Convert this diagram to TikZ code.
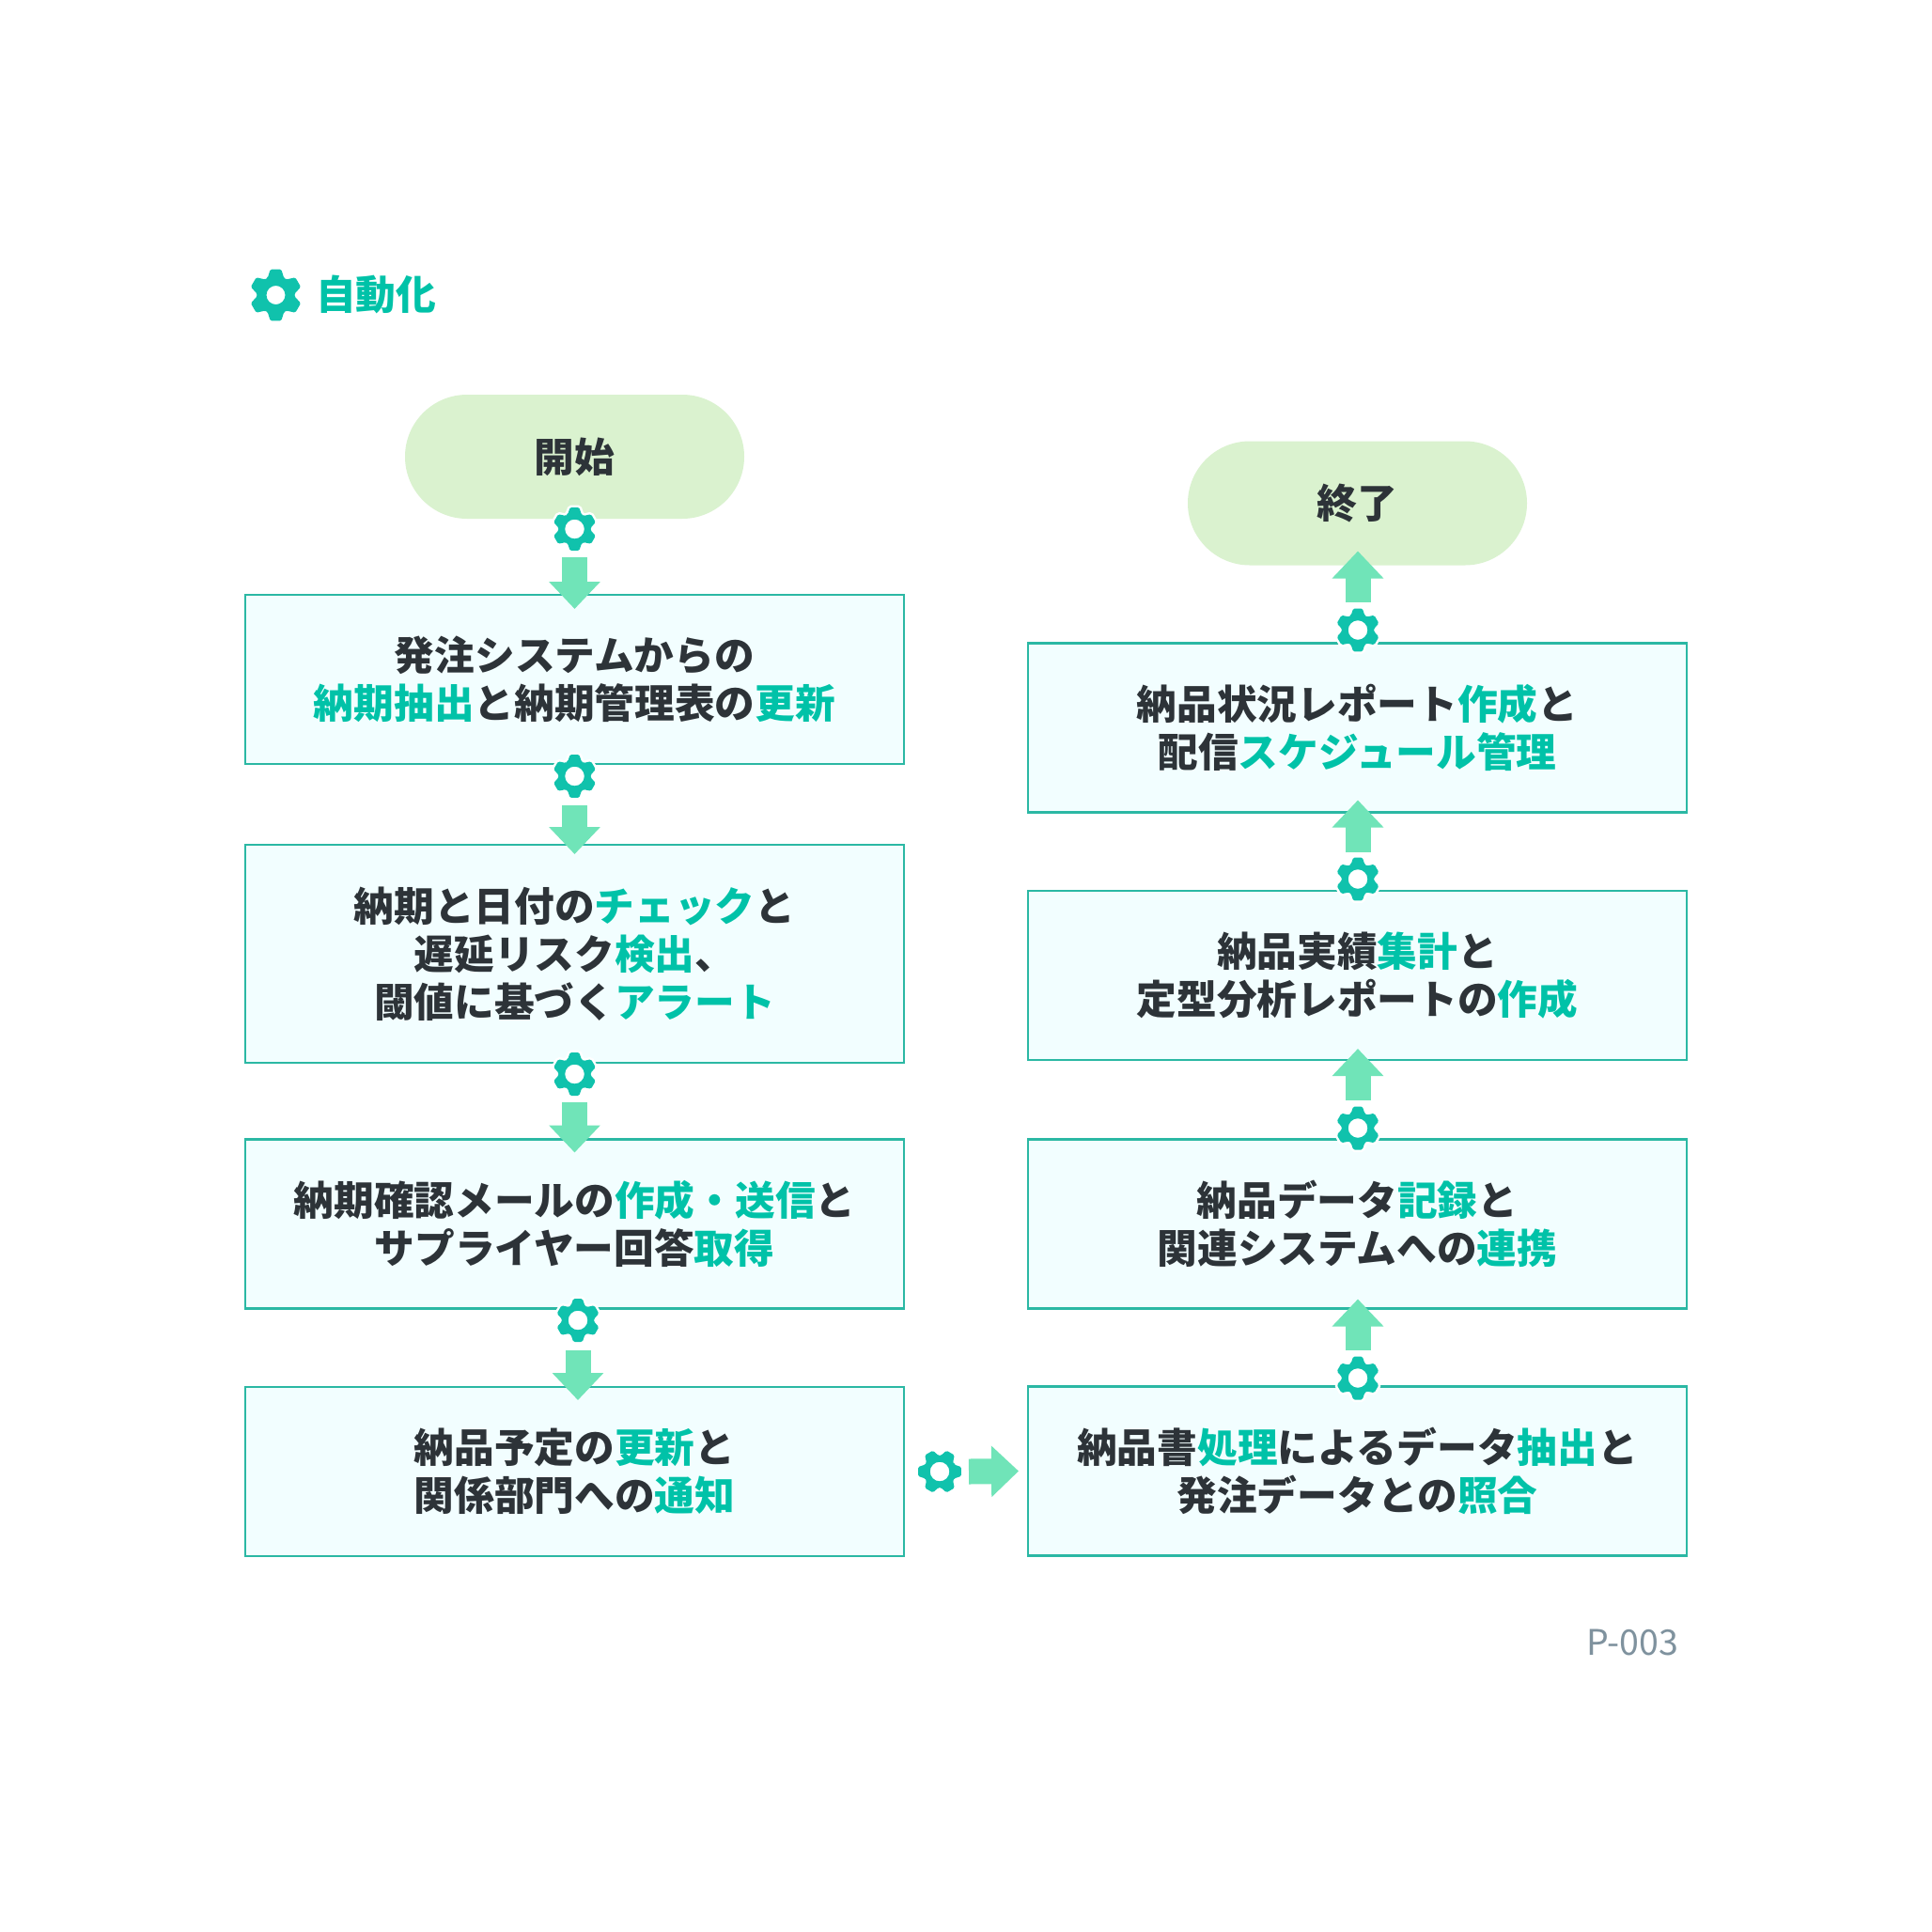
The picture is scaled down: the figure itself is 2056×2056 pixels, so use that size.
\documentclass[tikz,border=0pt]{standalone}
\usepackage{fontspec}
\setmainfont{Noto Sans CJK JP}
\usetikzlibrary{arrows.meta,shapes.misc}
\definecolor{ink}{HTML}{2D3338}
\definecolor{teal}{HTML}{00C2A8}
\definecolor{gearcol}{HTML}{10C2AC}
\definecolor{arrowcol}{HTML}{70E4B8}
\definecolor{pillcol}{HTML}{DAF2CF}
\definecolor{boxfill}{HTML}{F2FEFF}
\definecolor{boxline}{HTML}{2BB8A4}
\definecolor{notecol}{HTML}{7F929E}
\newcommand{\hl}[1]{\textcolor{teal}{#1}}
\tikzset{
  x=1pt,y=-1pt,
  every node/.style={text=ink,inner sep=0pt,outer sep=0pt},
  boxtext/.style={font=\fontsize{42.7}{51.2}\selectfont\bfseries,align=center},
  stepbox/.style={boxtext,draw=boxline,line width=2.6pt,fill=boxfill,minimum width=701pt},
  pill/.style={boxtext,rounded rectangle,fill=pillcol,minimum width=361pt,minimum height=132pt},
  flow/.style={draw=arrowcol,line width=27pt,-{Triangle[width=53pt,length=29pt]},line cap=butt},
  pics/gearicon/.style n args={3}{code={
    \fill[white,draw=white,line width=5pt,rounded corners=1.5pt] (-26:#2)
      \foreach \a in {0,60,...,300}{ -- ({\a-26}:#2) -- ({\a-12}:#1) -- ({\a+12}:#1) -- ({\a+26}:#2)} -- cycle;
    \fill[gearcol,even odd rule,rounded corners=1.5pt] (-26:#2)
      \foreach \a in {0,60,...,300}{ -- ({\a-26}:#2) -- ({\a-12}:#1) -- ({\a+12}:#1) -- ({\a+26}:#2)} -- cycle
      [sharp corners] (0,0) circle[radius=#3];
  }}
}
\begin{document}
\begin{tikzpicture}
\useasboundingbox[fill=white] (0,0) rectangle (2056,2056);
% legend
\coordinate (lg) at (293.5,314);
\pic[rotate=90] at (lg) {gearicon={28}{20}{10}};
\node[font=\fontsize{42.7}{51}\selectfont\bfseries,text=teal,anchor=west] (lt) at (336,313) {自動化};
% left column
\node[pill] (start) at (611.5,486) {開始};
\node[stepbox,minimum height=180pt] (a1) at (611.5,723) {発注システムからの\\\hl{納期抽出}と納期管理表の\hl{更新}};
\node[stepbox,minimum height=232pt] (a2) at (611.5,1015) {納期と日付の\hl{チェック}と\\遅延リスク\hl{検出}、\\閾値に基づく\hl{アラート}};
\node[stepbox,minimum height=180pt] (a3) at (611.5,1302.5) {納期確認メールの\hl{作成・送信}と\\サプライヤー回答\hl{取得}};
\node[stepbox,minimum height=180pt] (a4) at (611.5,1566) {納品予定の\hl{更新}と\\関係部門への\hl{通知}};
% right column
\node[pill] (end) at (1444.5,535.5) {終了};
\node[stepbox,minimum height=180pt] (b5) at (1444.5,774.5) {納品状況レポート\hl{作成}と\\配信\hl{スケジュール管理}};
\node[stepbox,minimum height=180pt] (b4) at (1444.5,1038) {納品実績\hl{集計}と\\定型分析レポートの\hl{作成}};
\node[stepbox,minimum height=180pt] (b3) at (1444.5,1302.5) {納品データ\hl{記録}と\\関連システムへの\hl{連携}};
\node[stepbox,minimum height=180pt] (b2) at (1444.5,1565.5) {納品書\hl{処理}によるデータ\hl{抽出}と\\発注データとの\hl{照合}};
% note
\node[font=\fontsize{37.5}{44}\selectfont,text=notecol,anchor=east] (note) at (1786,1748) {P-003};
% gears
\coordinate (g1) at (611.5,563);
\coordinate (g2) at (611.5,826);
\coordinate (g3) at (611.5,1143);
\coordinate (g4) at (615,1405);
\coordinate (g5) at (1000,1566);
\coordinate (h1) at (1445,1466.5);
\coordinate (h2) at (1445,1200.5);
\coordinate (h3) at (1445,935.5);
\coordinate (h4) at (1445,670.5);
\foreach \g in {g1,g2,g3,g4,h1,h2,h3,h4}{\pic[rotate=90] at (\g) {gearicon={23.5}{17}{10.3}};}
\pic at (g5) {gearicon={23.5}{17}{10.3}};
% arrows
\draw[flow] ([yshift=-30pt]g1) -- ([yshift=-15pt]a1.north);
\draw[flow] ([yshift=-31pt]g2) -- ([yshift=-10pt]a2.north);
\draw[flow] ([yshift=-30pt]g3) -- ([yshift=-14pt]a3.north);
\draw[flow] ([yshift=-32pt]g4) -- ([xshift=3.5pt,yshift=-14pt]a4.north);
\draw[flow] ([xshift=31pt]g5) -- ([xshift=-10pt]b2.west);
\draw[flow] ([yshift=29.5pt]h1) -- ([xshift=.5pt,yshift=10pt]b3.south);
\draw[flow] ([yshift=29.5pt]h2) -- ([xshift=.5pt,yshift=12pt]b4.south);
\draw[flow] ([yshift=28.5pt]h3) -- ([xshift=.5pt,yshift=13pt]b5.south);
\draw[flow] ([yshift=29.5pt]h4) -- ([xshift=.5pt,yshift=15pt]end.south);
\end{tikzpicture}
\end{document}
